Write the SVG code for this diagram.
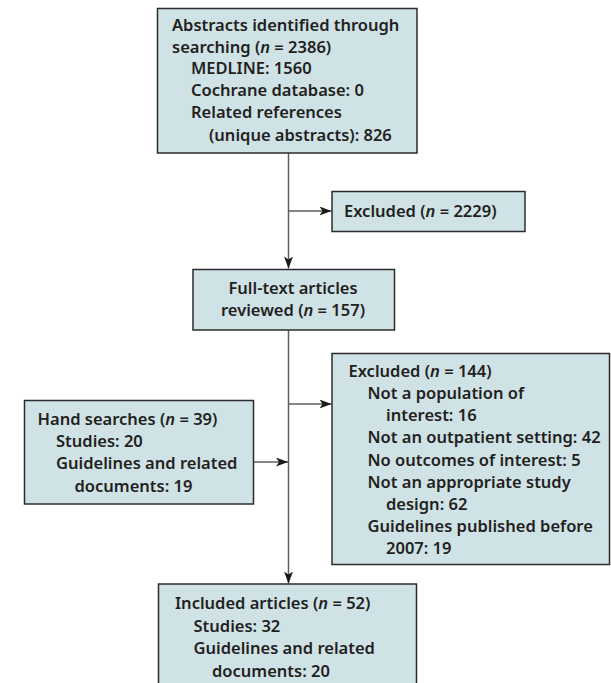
<svg xmlns="http://www.w3.org/2000/svg" width="611" height="683" viewBox="0 0 611 683">
<defs>
<style>
.box{fill:#cfe2e6;stroke:#2b2b2b;stroke-width:1.5}
.t{font-family:"Noto Sans","Open Sans","DejaVu Sans",sans-serif;font-weight:600;font-size:16.5px;fill:#231f20}
.c{text-anchor:middle}
.i{font-style:italic}
.ln{fill:none;stroke:#5e5e5e;stroke-width:1.5}
</style>
<marker id="ah" markerWidth="12" markerHeight="9" viewBox="0 0 12 9" refX="12" refY="4.5" orient="auto" markerUnits="userSpaceOnUse">
<path d="M0,0 L12,4.5 L0,9 L3,4.5 Z" fill="#1a1a1a"/>
</marker>
</defs>
<rect width="611" height="683" fill="#ffffff"/>
<g id="connectors">
<line class="ln" x1="288.5" y1="153" x2="288.5" y2="268.5" marker-end="url(#ah)"/>
<line class="ln" x1="288.5" y1="211" x2="331.5" y2="211" marker-end="url(#ah)"/>
<line class="ln" x1="288.5" y1="330" x2="288.5" y2="583.5" marker-end="url(#ah)"/>
<line class="ln" x1="288.5" y1="404" x2="331.5" y2="404" marker-end="url(#ah)"/>
<line class="ln" x1="253" y1="462" x2="288" y2="462" marker-end="url(#ah)"/>
</g>
<g id="abstracts">
<rect class="box" x="157.5" y="8.5" width="259.5" height="144.5"/>
<text class="t" x="172" y="30.7">Abstracts identified through</text>
<text class="t" x="172" y="52.5">searching (<tspan class="i">n</tspan> = 2386)</text>
<text class="t" x="191" y="74.3">MEDLINE: 1560</text>
<text class="t" x="191" y="96.3">Cochrane database: 0</text>
<text class="t" x="191" y="118.3">Related references</text>
<text class="t" x="209" y="140.5">(unique abstracts): 826</text>
</g>
<g id="excluded1">
<rect class="box" x="332" y="191.5" width="193" height="40"/>
<text class="t" x="344" y="216.7">Excluded (<tspan class="i">n</tspan> = 2229)</text>
</g>
<g id="fulltext">
<rect class="box" x="193" y="269.5" width="201.5" height="60.5"/>
<text class="t c" x="293" y="294.3">Full-text articles</text>
<text class="t c" x="293" y="316.3">reviewed (<tspan class="i">n</tspan> = 157)</text>
</g>
<g id="excluded2">
<rect class="box" x="332" y="353.5" width="277.5" height="211"/>
<text class="t" x="348.5" y="376.7">Excluded (<tspan class="i">n</tspan> = 144)</text>
<text class="t" x="367.5" y="398.9">Not a population of</text>
<text class="t" x="386" y="421.1">interest: 16</text>
<text class="t" x="367.5" y="443.3">Not an outpatient setting: 42</text>
<text class="t" x="367.5" y="465.5">No outcomes of interest: 5</text>
<text class="t" x="367.5" y="487.7">Not an appropriate study</text>
<text class="t" x="386" y="509.9">design: 62</text>
<text class="t" x="367.5" y="532.1">Guidelines published before</text>
<text class="t" x="386" y="554.3">2007: 19</text>
</g>
<g id="hand">
<rect class="box" x="24.5" y="400.5" width="229" height="103.5"/>
<text class="t" x="37.5" y="425">Hand searches (<tspan class="i">n</tspan> = 39)</text>
<text class="t" x="56" y="447.2">Studies: 20</text>
<text class="t" x="56" y="469.4">Guidelines and related</text>
<text class="t" x="74.5" y="491.6">documents: 19</text>
</g>
<g id="included">
<rect class="box" x="158.5" y="584" width="258" height="102"/>
<text class="t" x="175" y="609">Included articles (<tspan class="i">n</tspan> = 52)</text>
<text class="t" x="193.5" y="631.5">Studies: 32</text>
<text class="t" x="193.5" y="654">Guidelines and related</text>
<text class="t" x="212" y="676.5">documents: 20</text>
</g>
</svg>
